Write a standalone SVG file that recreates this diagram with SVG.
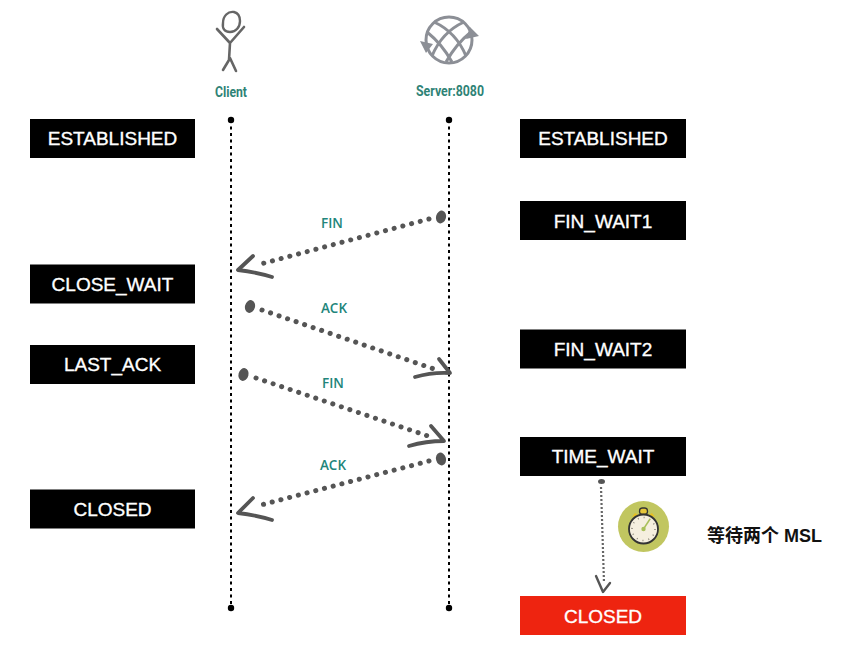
<svg xmlns="http://www.w3.org/2000/svg" width="855" height="672" viewBox="0 0 855 672">
<style>
.st{fill:#000}
.lb{font:19px "Liberation Sans",Arial,sans-serif;fill:#fff;stroke:#fff;stroke-width:.35;text-anchor:middle}
.tl{font:bold 15px Roboto,sans-serif;fill:#2f8376;text-anchor:middle}
.ml{font:600 13.500px "Open Sans",sans-serif;fill:#22857a;text-anchor:middle}
.life{fill:none;stroke:#000;stroke-width:2;stroke-dasharray:3 3.500}
.dots{fill:none;stroke:#555;stroke-width:5;stroke-linecap:round;stroke-dasharray:.1 8.900}
.head{fill:none;stroke:#555;stroke-width:3.800;stroke-linecap:round;stroke-linejoin:round}
.blob{fill:#555}
</style>
<g id="client"><path d="M234 12c-6-1-11 4-11 11-1 6 2 9 7 9 6 0 10-5 10-11 0-5-2-8-6-9z" fill="none" stroke="#666" stroke-width="2.400"/><path d="M217 29l13 14 14-16M230 43l-1 17-6 10M230 58l6 13" fill="none" stroke="#666" stroke-width="2.600" stroke-linecap="round" stroke-linejoin="round"/><text class="tl" x="231" y="97" textLength="32" lengthAdjust="spacingAndGlyphs">Client</text></g>
<g id="server"><g fill="none" stroke="#8c8f96" stroke-width="3"><circle cx="449" cy="40" r="23"/><path d="M434 22Q456 32 466 56M427 32Q442 44 452 62M464 22Q442 32 432 56M471 32Q456 44 446 62"/></g><path d="M470 27l9 9-13 3zM420 41l13 3-7 9z" fill="#8c8f96"/><text class="tl" x="450" y="96" textLength="68" lengthAdjust="spacingAndGlyphs">Server:8080</text></g>
<g id="connectors">
<path class="life" d="M231 120V608M449 120V608"/>
<g fill="#000"><circle cx="231" cy="120" r="3.200"/><circle cx="449" cy="120" r="3.200"/><circle cx="231" cy="608" r="3.200"/><circle cx="449" cy="608" r="3.200"/></g>
<path class="dots" d="M429 219L257 265"/><ellipse class="blob" cx="441" cy="217" rx="5" ry="6.500" transform="rotate(15 441 217)"/><path class="head" d="M253 256L238 270Q256 272 272 277"/>
<path class="dots" d="M262 310L434 369"/><ellipse class="blob" cx="250" cy="306.500" rx="5" ry="6.500" transform="rotate(15 250 306.500)"/><path class="head" d="M439 359L450 373Q432 372 415 377"/>
<path class="dots" d="M256 378L428 436"/><ellipse class="blob" cx="243.500" cy="374.500" rx="5" ry="6.500" transform="rotate(15 243.500 374.500)"/><path class="head" d="M431 426L444 441Q426 441 409 446"/>
<path class="dots" d="M429 461L257 506"/><ellipse class="blob" cx="441" cy="459" rx="5" ry="6.500" transform="rotate(-15 441 459)"/><path class="head" d="M253 498L238 513Q256 515 272 520"/>
<path d="M601 487L604 583" fill="none" stroke="#666" stroke-width="2.200" stroke-dasharray="2 2"/><ellipse class="blob" cx="601.500" cy="481.500" rx="3.500" ry="2.500"/><path d="M596 576L603 592L610 583" fill="none" stroke="#555" stroke-width="2.400" stroke-linecap="round" stroke-linejoin="round"/>
<text class="ml" x="332" y="228">FIN</text><text class="ml" x="334" y="313">ACK</text><text class="ml" x="333" y="388">FIN</text><text class="ml" x="333" y="470">ACK</text>
</g>
<g id="s1"><rect class="st" x="30" y="119" width="165" height="39"/><text class="lb" x="112.500" y="145">ESTABLISHED</text></g>
<g id="s2"><rect class="st" x="30" y="264.500" width="165" height="39"/><text class="lb" x="112.500" y="291">CLOSE_WAIT</text></g>
<g id="s3"><rect class="st" x="30" y="345" width="165" height="39"/><text class="lb" x="112.500" y="371">LAST_ACK</text></g>
<g id="s4"><rect class="st" x="30" y="489.500" width="165" height="39"/><text class="lb" x="112.500" y="516">CLOSED</text></g>
<g id="s5"><rect class="st" x="520" y="119" width="166" height="39"/><text class="lb" x="603" y="145">ESTABLISHED</text></g>
<g id="s6"><rect class="st" x="520" y="201" width="166" height="39"/><text class="lb" x="603" y="227.500">FIN_WAIT1</text></g>
<g id="s7"><rect class="st" x="520" y="329.500" width="166" height="39"/><text class="lb" x="603" y="356">FIN_WAIT2</text></g>
<g id="s8"><rect class="st" x="520" y="437" width="166" height="39"/><text class="lb" x="603" y="463">TIME_WAIT</text></g>
<g id="s9"><rect x="520" y="596" width="166" height="39" fill="#ee2410"/><text class="lb" x="603" y="622.500">CLOSED</text></g>
<g id="timer"><circle cx="643.500" cy="526.500" r="25.500" fill="#c1c660"/><path d="M632 517l3-4 3 2zM655 517l-3-4-3 2z" fill="#e8c020"/><rect x="639.500" y="508" width="8" height="6.500" rx="3" fill="#e6c63a" stroke="#333" stroke-width="1.300"/><circle cx="643.500" cy="529" r="14.500" fill="#f5efdf" stroke="#333" stroke-width="1.800"/><circle cx="643.500" cy="529" r="11.500" fill="none" stroke="#8a8578" stroke-width="1.500" stroke-dasharray="1 5"/><path d="M643.500 529L650 519" stroke="#a9c05a" stroke-width="1.500"/><circle cx="643.500" cy="529" r="2.200" fill="#a9c05a"/></g>
<text x="707" y="542" font-family="'Liberation Sans','Noto Sans CJK SC',sans-serif" font-size="18" font-weight="bold" fill="#111">等待两个 MSL</text>
</svg>
